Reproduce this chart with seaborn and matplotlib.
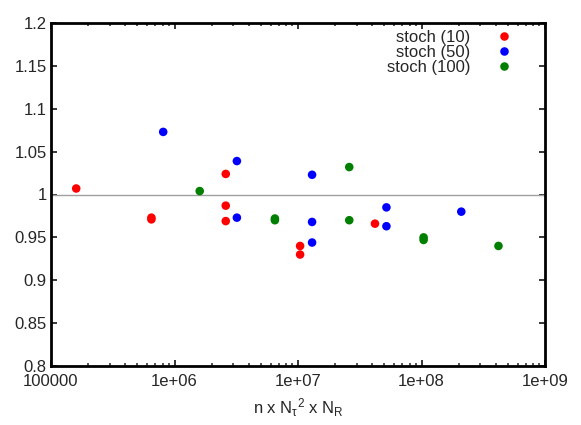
import pandas as pd
import matplotlib
matplotlib.use("Agg")
import matplotlib.pyplot as plt
import seaborn as sns

# data
x_10 = [1.6e5, 6.5e5, 6.5e5, 2.6e6, 2.6e6, 2.6e6, 1.04e7, 1.04e7, 4.2e7]
y_10 = [1.007, 0.973, 0.971, 1.024, 0.987, 0.969, 0.940, 0.930, 0.966]

x_50 = [8.1e5, 3.2e6, 3.2e6, 1.3e7, 1.3e7, 1.3e7, 5.2e7, 5.2e7, 2.1e8]
y_50 = [1.073, 1.039, 0.973, 1.023, 0.968, 0.944, 0.985, 0.963, 0.980]

x_100 = [1.6e6, 6.5e6, 6.5e6, 2.6e7, 2.6e7, 1.04e8, 1.04e8, 4.2e8]
y_100 = [1.004, 0.972, 0.970, 1.032, 0.970, 0.950, 0.947, 0.940]

labels = ["stoch (10)", "stoch (50)", "stoch (100)"]
colors = ["#ff0000", "#0000ff", "#007f00"]
xticks = [1e5, 1e6, 1e7, 1e8, 1e9]
xticklabels = ["100000", "1e+06", "1e+07", "1e+08", "1e+09"]
yticks = [0.8, 0.85, 0.9, 0.95, 1.0, 1.05, 1.1, 1.15, 1.2]
yticklabels = ["0.8", "0.85", "0.9", "0.95", "1", "1.05", "1.1", "1.15", "1.2"]

df = pd.concat([
    pd.DataFrame({"x": x_10, "y": y_10, "set": labels[0]}),
    pd.DataFrame({"x": x_50, "y": y_50, "set": labels[1]}),
    pd.DataFrame({"x": x_100, "y": y_100, "set": labels[2]}),
])

sns.set_style("ticks")
plt.rcParams["font.family"] = ["Liberation Sans", "DejaVu Sans"]
plt.rcParams["mathtext.fontset"] = "custom"
plt.rcParams["mathtext.rm"] = "Liberation Sans"
plt.rcParams["mathtext.it"] = "Liberation Sans"

fs = 12
fig = plt.figure(figsize=(5.81, 4.25), dpi=100)
ax = fig.add_axes([51 / 581, 1 - 366 / 425, 494 / 581, 343 / 425])

ax.axhline(1.0, color="#a0a0a0", lw=1.0, zorder=1)
sns.scatterplot(data=df, x="x", y="y", hue="set", palette=dict(zip(labels, colors)),
                s=38, edgecolor="none", ax=ax, zorder=3)

ax.set_xscale("log")
ax.set_xlim(1e5, 1e9)
ax.set_ylim(0.8, 1.2)
ax.set_xticks(xticks)
ax.set_xticklabels(xticklabels)
ax.set_yticks(yticks)
ax.set_yticklabels(yticklabels)
ax.tick_params(which="both", direction="in", top=True, right=True, labelsize=fs)
ax.tick_params(axis="x", pad=6)
ax.tick_params(axis="y", pad=3)
ax.tick_params(which="major", length=4, width=1.3)
ax.tick_params(which="minor", length=2, width=1.1)
for sp in ax.spines.values():
    sp.set_linewidth(2.0)
    sp.set_color("black")

ax.set_xlabel(r"n x N$_{\tau}$$^{2}$ x N$_{\mathrm{R}}$", fontsize=fs, labelpad=5)
ax.set_ylabel("")

leg = ax.legend(loc="upper right", frameon=False, markerfirst=False, fontsize=fs,
                handletextpad=1.0, handlelength=2.0, labelspacing=0.0,
                borderaxespad=0.0, borderpad=0.4,
                bbox_to_anchor=(0.9636, 1.0))
for t in leg.get_texts():
    t.set_ha("right")

fig.savefig("out.png", dpi=100)
